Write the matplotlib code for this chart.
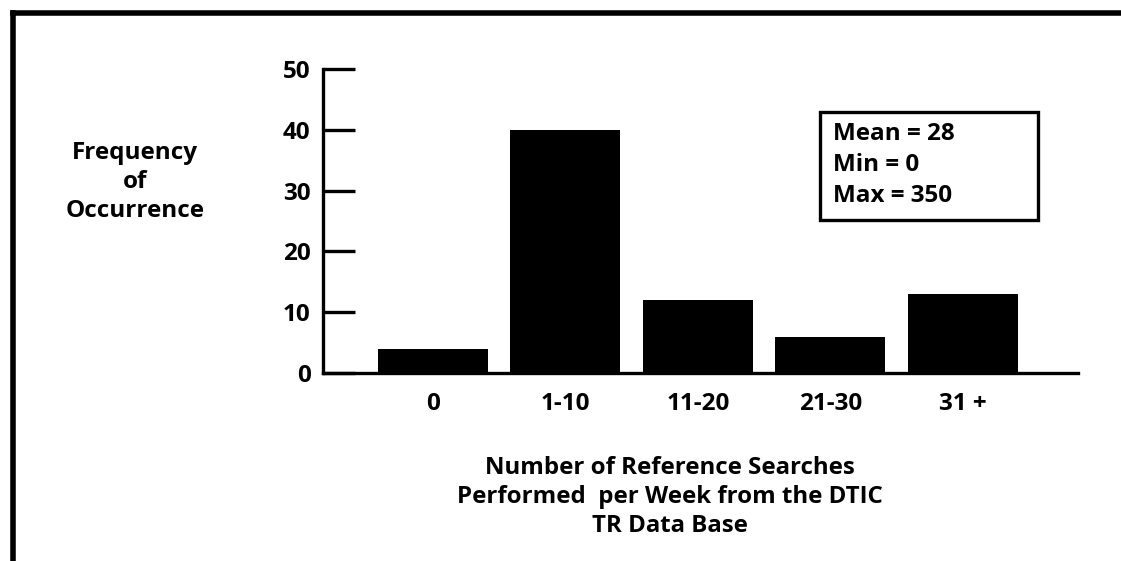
import matplotlib.pyplot as plt
from matplotlib.patches import Rectangle

plt.rcParams['font.family'] = 'Open Sans'
plt.rcParams['font.weight'] = 'bold'

# Данные гистограммы
categories = ['0', '1-10', '11-20', '21-30', '31 +']
frequency = [4, 40, 12, 6, 13]
y_ticks = [0, 10, 20, 30, 40, 50]
stats_lines = ['Mean = 28', 'Min = 0', 'Max = 350']

W, H = 1121, 561
fig = plt.figure(figsize=(W / 100, H / 100), dpi=100)

# Рамка вокруг рисунка (сверху и слева)
fig.add_artist(plt.Line2D([13 / W, 1], [1 - 13 / H, 1 - 13 / H], color='black', lw=4))
fig.add_artist(plt.Line2D([13 / W, 13 / W], [0, 1 - 13 / H], color='black', lw=4))

ax = fig.add_axes([323 / W, 1 - 373 / H, (1078 - 323) / W, (373 - 69) / H])
x = range(len(categories))
ax.bar(x, frequency, width=0.83, color='black')

ax.set_xlim(-0.83, 4.87)
ax.set_ylim(0, 50)
ax.set_yticks(y_ticks)
ax.set_xticks(list(x))
ax.set_xticklabels(categories, fontsize=17.5, fontweight='bold')
ax.set_yticklabels([str(t) for t in y_ticks], fontsize=17.5, fontweight='bold')

for s in ['top', 'right']:
    ax.spines[s].set_visible(False)
for s in ['left', 'bottom']:
    ax.spines[s].set_linewidth(2.4)

ax.tick_params(axis='y', direction='in', length=23, width=2.4, pad=9)
ax.tick_params(axis='x', length=0, pad=14)

# Подписи осей
fig.text(135 / W, 1 - 182 / H, 'Frequency\nof\nOccurrence', ha='center', va='center',
         fontsize=17.5, fontweight='bold', linespacing=1.3)
fig.text(670 / W, 1 - 497 / H,
         'Number of Reference Searches\nPerformed  per Week from the DTIC\nTR Data Base',
         ha='center', va='center', fontsize=17.3, fontweight='bold', linespacing=1.25)

# Блок со статистикой
fig.add_artist(Rectangle((820 / W, 1 - 220 / H), (1038 - 820) / W, (220 - 112) / H,
                         transform=fig.transFigure, fill=False, lw=2.4, ec='black'))
fig.text(833 / W, 1 - 165 / H, '\n'.join(stats_lines), ha='left', va='center',
         fontsize=17.5, fontweight='bold', linespacing=1.4)

plt.savefig('out.png', dpi=100)
